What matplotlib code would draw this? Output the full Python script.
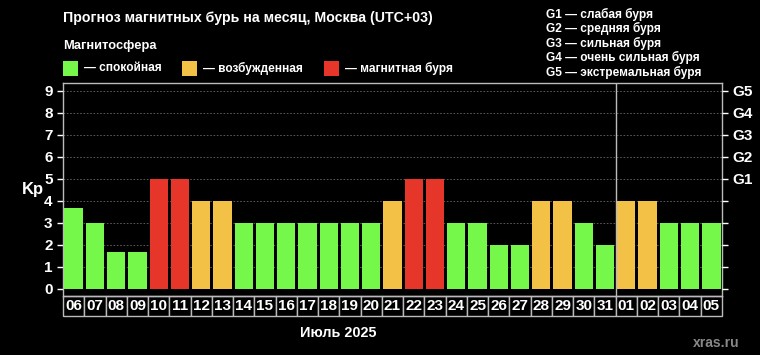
import matplotlib.pyplot as plt
from matplotlib.patches import Rectangle
import matplotlib.transforms as mtransforms

plt.rcParams['font.family'] = ['Liberation Sans', 'DejaVu Sans']
plt.rcParams['font.weight'] = 'bold'

# Data
days = ['06', '07', '08', '09', '10', '11', '12', '13', '14', '15', '16', '17',
        '18', '19', '20', '21', '22', '23', '24', '25', '26', '27', '28', '29',
        '30', '31', '01', '02', '03', '04', '05']
kp = [3.67, 3, 1.67, 1.67, 5, 5, 4, 4, 3, 3, 3, 3,
      3, 3, 3, 4, 5, 5, 3, 3, 2, 2, 4, 4,
      3, 2, 4, 4, 3, 3, 3]
g_levels = ['G1', 'G2', 'G3', 'G4', 'G5']
g_desc = ['слабая буря', 'средняя буря', 'сильная буря',
          'очень сильная буря', 'экстремальная буря']
legend_labels = ['спокойная', 'возбужденная', 'магнитная буря']
month_break = 26  # index where next month starts

GREEN = '#76F84B'
YELLOW = '#F2C146'
RED = '#E6362A'
colors = [GREEN if v < 4 else (YELLOW if v < 5 else RED) for v in kp]

fig = plt.figure(figsize=(7.6, 3.55), dpi=100, facecolor='black')
W, H = 760, 355
ax = fig.add_axes([63 / W, 1 - 296 / H, (722 - 63) / W, (296 - 83) / H])
ax.set_facecolor('black')

x = list(range(len(days)))
ax.bar(x, kp, width=0.86, color=colors, zorder=3)
ax.set_xlim(-0.5, len(days) - 0.5)
ax.set_ylim(-0.32, 9.36)

for y in range(1, 10):
    ax.axhline(y, color='#666666', lw=0.6, ls=(0, (2, 2)), zorder=1)
ax.axvline(month_break - 0.5, color='#bbbbbb', lw=1, zorder=4)

for s in ax.spines.values():
    s.set_color('#bbbbbb')
    s.set_linewidth(1)

ax.set_yticks(range(10))
ax.tick_params(axis='y', colors='white', labelsize=11, length=4, width=1)
for t in ax.get_yticklabels():
    t.set_fontweight('bold')
ax.set_xticks([])

ax2 = ax.twinx()
ax2.set_ylim(ax.get_ylim())
ax2.set_yticks(range(10))
ax2.set_yticklabels([''] * 5 + g_levels)
ax2.tick_params(axis='y', colors='white', labelsize=11, length=4, width=1)
for t in ax2.get_yticklabels():
    t.set_fontweight('bold')
for s in ax2.spines.values():
    s.set_visible(False)

# date boxes below axis
trans = mtransforms.blended_transform_factory(ax.transData, ax.transAxes)
box_h = 20 / (296 - 83)
for i, d in enumerate(days):
    ax.add_patch(Rectangle((i - 0.5, -box_h), 1, box_h, transform=trans,
                           facecolor='black', edgecolor='#bbbbbb', lw=1,
                           clip_on=False))
    ax.text(i, -box_h / 2, d, transform=trans, color='white', fontsize=11,
            fontweight='bold', ha='center', va='center')

fig.text(33 / W, 1 - 190 / H, 'Kp', color='white', fontsize=12,
         fontweight='bold', ha='center', va='center')
fig.text(300 / W, 1 - 333 / H, 'Июль 2025', color='white', fontsize=10.4,
         fontweight='bold', ha='left', va='center')
fig.text(740 / W, 1 - 343 / H, 'xras.ru', color='#888888', fontsize=10,
         fontweight='bold', ha='right', va='center')

fig.text(63 / W, 1 - 18 / H, 'Прогноз магнитных бурь на месяц, Москва (UTC+03)',
         color='white', fontsize=10.2, fontweight='bold', va='center')
fig.text(63 / W, 1 - 46 / H, 'Магнитосфера', color='white', fontsize=9.3,
         fontweight='bold', va='center')

leg_x = [63, 182, 324]
for lx, lab, c in zip(leg_x, legend_labels, [GREEN, YELLOW, RED]):
    fig.patches.append(Rectangle((lx / W, 1 - 76 / H), 15 / W, 15 / H,
                                 transform=fig.transFigure, facecolor=c,
                                 edgecolor='none'))
    fig.text((lx + 21) / W, 1 - 68 / H, '— ' + lab, color='white', fontsize=8.6,
             fontweight='bold', va='center')

for k, (g, desc) in enumerate(zip(g_levels, g_desc)):
    fig.text(546 / W, 1 - (14 + 14.5 * k) / H, g + ' — ' + desc, color='white',
             fontsize=8.6, fontweight='bold', va='center')

fig.savefig('out.png', dpi=100, facecolor='black')
